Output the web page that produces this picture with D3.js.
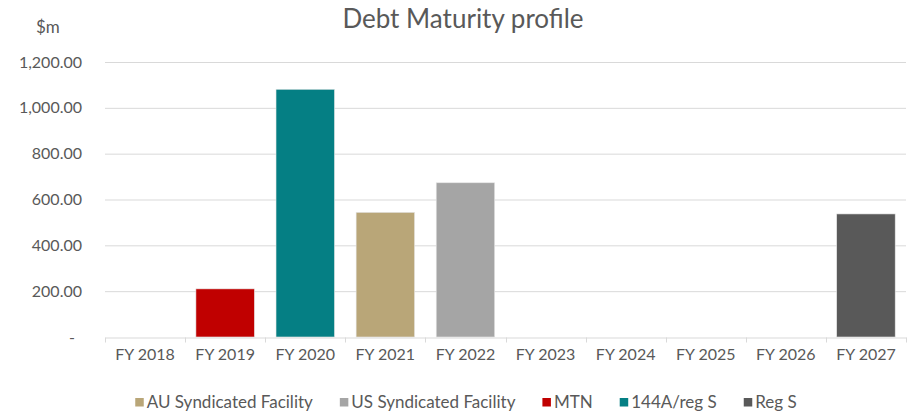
<!DOCTYPE html>
<html>
<head>
<meta charset="utf-8">
<script src="https://cdn.jsdelivr.net/npm/d3@7"></script>
<style>
  body { margin: 0; background: #fff; }
  svg text { font-family: Lato, "Open Sans", sans-serif; fill: #595959; }
</style>
</head>
<body>
<div id="chart"></div>
<script>
// categories and series (each series matures in one year only)
var years = ["FY 2018", "FY 2019", "FY 2020", "FY 2021", "FY 2022", "FY 2023", "FY 2024", "FY 2025", "FY 2026", "FY 2027"];
var seriesNames = ["AU Syndicated Facility", "US Syndicated Facility", "MTN", "144A/reg S", "Reg S"];
var seriesColors = ["#B9A678", "#A5A5A5", "#C00000", "#057F84", "#595959"];
var auSyndicated = [0, 0, 0, 544, 0, 0, 0, 0, 0, 0];
var usSyndicated = [0, 0, 0, 0, 673, 0, 0, 0, 0, 0];
var mtn          = [0, 210, 0, 0, 0, 0, 0, 0, 0, 0];
var reg144A      = [0, 0, 1081, 0, 0, 0, 0, 0, 0, 0];
var regS         = [0, 0, 0, 0, 0, 0, 0, 0, 0, 537];
var yTicks = [0, 200, 400, 600, 800, 1000, 1200];

var width = 911, height = 413;
var margin = { top: 62, right: 5, bottom: 76, left: 105 };

var svg = d3.select("#chart").append("svg")
    .attr("width", width)
    .attr("height", height);

// build rows for the stack
var allValues = [auSyndicated, usSyndicated, mtn, reg144A, regS];
var rows = years.map(function(y, i) {
    var row = { year: y };
    seriesNames.forEach(function(s, j) { row[s] = allValues[j][i]; });
    return row;
});

var x = d3.scaleBand()
    .domain(years)
    .range([margin.left, width - margin.right])
    .paddingInner(0.27)
    .paddingOuter(0.135);

var y = d3.scaleLinear()
    .domain([0, 1200])
    .range([height - margin.bottom, margin.top]);

// gridlines
svg.append("g")
    .selectAll("line")
    .data(yTicks.slice(1))
    .enter().append("line")
    .attr("x1", margin.left)
    .attr("x2", width - margin.right)
    .attr("y1", function(d) { return y(d) + 0.5; })
    .attr("y2", function(d) { return y(d) + 0.5; })
    .attr("stroke", "#D9D9D9")
    .attr("stroke-width", 1);

// y labels (accounting style, zero shown as a dash)
svg.append("g")
    .selectAll("text")
    .data(yTicks)
    .enter().append("text")
    .attr("x", function(d) { return d === 0 ? 75 : 82; })
    .attr("y", function(d) { return y(d); })
    .attr("dy", "0.35em")
    .attr("text-anchor", "end")
    .style("font-size", "16px")
    .text(function(d) { return d === 0 ? "-" : d3.format(",.2f")(d); });

// stacked bars
var stacked = d3.stack().keys(seriesNames)(rows);

svg.append("g")
    .selectAll("g")
    .data(stacked)
    .enter().append("g")
    .attr("fill", function(d, i) { return seriesColors[i]; })
    .selectAll("rect")
    .data(function(d) { return d.filter(function(p) { return p[1] - p[0] > 0; }); })
    .enter().append("rect")
    .attr("x", function(d) { return x(d.data.year); })
    .attr("width", x.bandwidth())
    .attr("y", function(d) { return y(d[1]); })
    .attr("height", function(d) { return y(d[0]) - y(d[1]); })
    .attr("stroke", "#E6E6E6")
    .attr("stroke-width", 0.6);

// x axis: baseline with ticks at category boundaries
var xAxis = d3.axisBottom(x).tickSize(0).tickPadding(22);
var gx = svg.append("g")
    .attr("transform", "translate(0," + (y(0) + 0.5) + ")")
    .call(xAxis);
gx.select(".domain").attr("stroke", "#D9D9D9");
gx.selectAll("text")
    .style("font-size", "16px")
    .style("font-family", "Lato, sans-serif")
    .attr("fill", "#595959")
    .attr("dy", "0em");

var step = x.step();
gx.selectAll(".bound")
    .data(d3.range(years.length + 1))
    .enter().append("line")
    .attr("class", "bound")
    .attr("x1", function(i) { return Math.round(margin.left + i * step) + 0.5; })
    .attr("x2", function(i) { return Math.round(margin.left + i * step) + 0.5; })
    .attr("y1", 0)
    .attr("y2", 5)
    .attr("stroke", "#D9D9D9");

// title and unit
svg.append("text")
    .attr("x", 463)
    .attr("y", 28)
    .attr("text-anchor", "middle")
    .style("font-size", "26px")
    .text("Debt Maturity profile");

svg.append("text")
    .attr("x", 36)
    .attr("y", 33)
    .style("font-size", "17px")
    .text("$m");

// legend, laid out from measured text widths and centred
var legend = svg.append("g");
var items = legend.selectAll("g")
    .data(seriesNames)
    .enter().append("g");

items.append("rect")
    .attr("width", 8.5)
    .attr("height", 8.5)
    .attr("y", 398)
    .attr("fill", function(d, i) { return seriesColors[i]; });

items.append("text")
    .attr("x", 11.5)
    .attr("y", 408)
    .style("font-size", "17px")
    .text(function(d) { return d; });

var cursor = 0;
items.each(function() {
    var g = d3.select(this);
    var w = g.select("text").node().getComputedTextLength() + 11.5;
    g.attr("transform", "translate(" + cursor + ",0)");
    cursor += w + 27;
});
var total = cursor - 27;
legend.attr("transform", "translate(" + (466 - total / 2) + ",0)");
</script>
</body>
</html>
